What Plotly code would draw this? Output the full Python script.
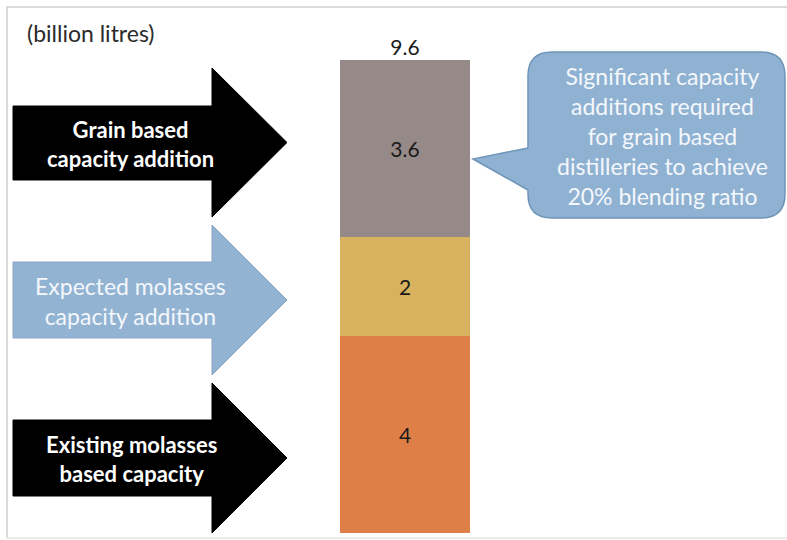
import plotly.graph_objects as go

# Ethanol distillation capacity build-up (billion litres)
segments = ["Existing molasses based capacity",
            "Expected molasses capacity addition",
            "Grain based capacity addition"]
values = [4, 2, 3.6]
seg_colors = ["#DE7F47", "#D8B25E", "#968A88"]
total = round(sum(values), 1)

unit_label = "(billion litres)"
callout_text = ("Significant capacity<br>additions required<br>for grain based<br>"
                "distilleries to achieve<br>20% blending ratio")
arrow_texts = ["Grain based<br>capacity addition",
               "Expected molasses<br>capacity addition",
               "Existing molasses<br>based capacity"]

W, H = 787, 540
FONT = "Lato"
TXT = 23


def px(x, y):
    """Pixel position -> paper coordinates."""
    return x / W, 1 - y / H


def path_from(points):
    parts = []
    for i, (x, y) in enumerate(points):
        fx, fy = px(x, y)
        parts.append(("M" if i == 0 else "L") + f"{fx:.5f},{fy:.5f}")
    return " ".join(parts) + " Z"


def arrow_path(x0, xb, xt, body_top, body_bot, head_top, head_bot):
    mid = (head_top + head_bot) / 2
    return path_from([(x0, body_top), (xb, body_top), (xb, head_top), (xt, mid),
                      (xb, head_bot), (xb, body_bot), (x0, body_bot)])


def bubble_path(l, t, r, b, rad, tip, p_top, p_bot):
    def P(x, y):
        fx, fy = px(x, y)
        return f"{fx:.5f},{fy:.5f}"
    return (f"M{P(l + rad, t)} L{P(r - rad, t)} Q{P(r, t)} {P(r, t + rad)} "
            f"L{P(r, b - rad)} Q{P(r, b)} {P(r - rad, b)} "
            f"L{P(l + rad, b)} Q{P(l, b)} {P(l, b - rad)} "
            f"L{P(l, p_bot)} L{P(*tip)} L{P(l, p_top)} "
            f"L{P(l, t + rad)} Q{P(l, t)} {P(l + rad, t)} Z")


fig = go.Figure()
for name, v, c in zip(segments, values, seg_colors):
    fig.add_trace(go.Bar(
        x=[405], y=[v], width=130, name=name,
        marker=dict(color=c, line=dict(width=0)),
        text=[f"{v:g}"], textposition="inside", insidetextanchor="middle",
        textfont=dict(family=FONT, size=21, color="#1a1a1a"),
        hoverinfo="skip", showlegend=False,
    ))

# Total label above the stack
fig.add_trace(go.Scatter(
    x=[405], y=[total], mode="text", text=[f"{total:g}"],
    textposition="top center",
    textfont=dict(family=FONT, size=21, color="#1a1a1a"),
    hoverinfo="skip", showlegend=False,
))

# y scale: 0 at pixel 533, total at pixel 60
ppu = (533 - 60) / total
y_lo = -(H - 533) / ppu
y_hi = 533 / ppu

shapes = [
    # outer frame
    dict(type="path", xref="paper", yref="paper",
         path=f"M{px(7, 538)[0]},{px(7, 538)[1]} L{px(7, 7)[0]},{px(7, 7)[1]} "
              f"L{px(787, 7)[0]},{px(787, 7)[1]}",
         line=dict(color="#CFCFCF", width=1.5)),
    dict(type="line", xref="paper", yref="paper",
         x0=px(7, 538)[0], y0=px(7, 538)[1], x1=1, y1=px(7, 538)[1],
         line=dict(color="#E2E2E2", width=1.5)),
    # arrows
    dict(type="path", xref="paper", yref="paper",
         path=arrow_path(13, 212, 287, 106, 180, 68, 217),
         fillcolor="#000000", line=dict(color="#000000", width=1)),
    dict(type="path", xref="paper", yref="paper",
         path=arrow_path(13, 212, 287, 262, 338, 225, 375),
         fillcolor="#93B3D3", line=dict(color="#8AA6C0", width=1)),
    dict(type="path", xref="paper", yref="paper",
         path=arrow_path(13, 212, 287, 420, 496, 383, 533),
         fillcolor="#000000", line=dict(color="#000000", width=1)),
    # callout bubble
    dict(type="path", xref="paper", yref="paper",
         path=bubble_path(528, 52, 785, 218, 24, (473, 159), 148, 190),
         fillcolor="#90B2D2", line=dict(color="#6E94B8", width=1.5)),
]

annotations = [
    dict(xref="paper", yref="paper", x=px(25, 33)[0], y=px(25, 33)[1],
         xanchor="left", yanchor="middle", showarrow=False, text=unit_label,
         font=dict(family=FONT, size=TXT, color="#2b2b2b")),
    dict(xref="paper", yref="paper", x=px(130, 144)[0], y=px(130, 144)[1],
         xanchor="center", yanchor="middle", showarrow=False,
         text=f"<b>{arrow_texts[0]}</b>",
         font=dict(family=FONT, size=TXT - 1, color="#FFFFFF")),
    dict(xref="paper", yref="paper", x=px(130, 301)[0], y=px(130, 301)[1],
         xanchor="center", yanchor="middle", showarrow=False,
         text=arrow_texts[1],
         font=dict(family=FONT, size=TXT, color="#F4F7FB")),
    dict(xref="paper", yref="paper", x=px(131, 459)[0], y=px(131, 459)[1],
         xanchor="center", yanchor="middle", showarrow=False,
         text=f"<b>{arrow_texts[2]}</b>",
         font=dict(family=FONT, size=TXT - 1, color="#FFFFFF")),
    dict(xref="paper", yref="paper", x=px(662, 136)[0], y=px(662, 136)[1],
         xanchor="center", yanchor="middle", showarrow=False,
         text=callout_text, align="center",
         font=dict(family=FONT, size=TXT, color="#F4F7FB")),
]

fig.update_layout(
    width=W, height=H, margin=dict(l=0, r=0, t=0, b=0),
    paper_bgcolor="#FFFFFF", plot_bgcolor="#FFFFFF",
    barmode="stack", bargap=0,
    xaxis=dict(range=[0, W], visible=False, fixedrange=True),
    yaxis=dict(range=[y_lo, y_hi], visible=False, fixedrange=True),
    shapes=shapes, annotations=annotations,
    uniformtext=dict(mode=False),
)

fig.write_html("out.html")
